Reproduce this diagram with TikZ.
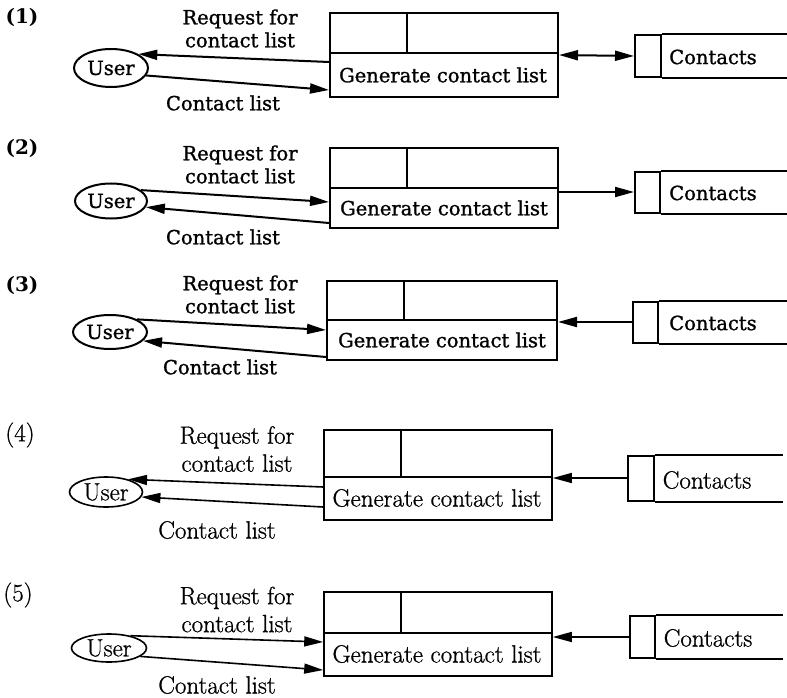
\documentclass[tikz,border=0pt]{standalone}
\usepackage{fontspec}
\newfontfamily\dvs{DejaVu Serif}[FakeBold=1.2]
\newfontfamily\dvsb{DejaVu Serif Bold}
\newfontfamily\lmr{Latin Modern Roman}[FakeBold=0.8]
\usetikzlibrary{arrows.meta,calc,shapes.geometric}
\tikzset{
  fa/.style={font=\dvs\fontsize{19.5}{23}\selectfont},
  fb/.style={font=\lmr\fontsize{25}{28}\selectfont},
  numa/.style={font=\dvsb\fontsize{20}{22}\selectfont},
  lwa/.style={line width=2pt},
  lwb/.style={line width=1.6pt},
  tipa/.tip={Triangle[length=19pt,width=10pt]},
  arr/.style={-tipa},
  darr/.style={tipa-tipa},
  user/.style={draw,ellipse,inner sep=0pt},
  proc/.style={draw,rectangle,inner sep=0pt},
  store/.style={draw,rectangle,inner sep=0pt},
  lab/.style={inner sep=0pt,align=center},
}
\begin{document}
\begin{tikzpicture}[x=1pt,y=-1pt]
\useasboundingbox[fill=white] (0,0) rectangle (787,698);

%% ---------------- Panel 1 ----------------
\begin{scope}[fa,lwa]
\node[lab,numa] (n1) at (22,17) {(1)};
\node[proc,minimum width=228pt,minimum height=84pt] (P1) at (444,55) {};
\draw ([yshift=2pt]P1.west) -- ([yshift=2pt]P1.east);
\draw ([xshift=78pt]P1.north west) -- ([xshift=78pt,yshift=2pt]P1.west);
\node[lab] (G1) at (443,75) {Generate contact list};
\node[store,minimum width=26pt,minimum height=42pt] (S1) at (648,56) {};
\draw (S1.north east) -- ++(126,0);
\draw (S1.south east) -- ++(126,0);
\node[lab] (C1) at (713,57) {Contacts};
\node[user,minimum width=74pt,minimum height=38pt] (U1) at (111,68) {User};
\draw[darr] (P1.east) -- (S1.west);
\draw[arr] ([yshift=-7pt]P1.west) -- (U1.27);
\draw[arr] (U1.-12) -- ([yshift=-35pt]P1.west);
\node[lab] (R1) at (240,28.5) {Request for\\contact list};
\node[lab] (L1) at (223,103) {Contact list};
\end{scope}

%% ---------------- Panel 2 ----------------
\begin{scope}[fa,lwa]
\node[lab,numa] (n2) at (22,148) {(2)};
\node[proc,minimum width=228pt,minimum height=80pt] (P2) at (444,188) {};
\draw (P2.west) -- (P2.east);
\draw ([xshift=78pt]P2.north west) -- ([xshift=78pt]P2.west);
\node[lab] (G2) at (444,208) {Generate contact list};
\node[store,minimum width=25pt,minimum height=41pt] (S2) at (647.5,192.5) {};
\draw (S2.north east) -- ++(127,0);
\draw (S2.south east) -- ++(127,0);
\node[lab] (C2) at (713,193) {Contacts};
\node[user,minimum width=72pt,minimum height=35pt] (U2) at (111,201) {User};
\draw[arr] ([yshift=-4pt]P2.east) -- ([yshift=0.5pt]S2.west);
\draw[arr] (U2.20) -- ([yshift=-14pt]P2.west);
\draw[arr] ([yshift=-35pt]P2.west) -- (U2.-10);
\node[lab] (R2) at (240,164.5) {Request for\\contact list};
\node[lab] (L2) at (223,237) {Contact list};
\end{scope}

%% ---------------- Panel 3 ----------------
\begin{scope}[fa,lwa]
\node[lab,numa] (n3) at (22,285) {(3)};
\node[proc,minimum width=230pt,minimum height=79pt] (P3) at (442,320.5) {};
\draw ([yshift=0.5pt]P3.west) -- ([yshift=0.5pt]P3.east);
\draw ([xshift=78pt]P3.north west) -- ([xshift=78pt,yshift=0.5pt]P3.west);
\node[lab] (G3) at (442,340) {Generate contact list};
\node[store,minimum width=25pt,minimum height=41pt] (S3) at (645.5,322.5) {};
\draw (S3.north east) -- ++(129,0);
\draw (S3.south east) -- ++(129,0);
\node[lab] (C3) at (713,323) {Contacts};
\node[user,minimum width=74pt,minimum height=34pt] (U3) at (110,332) {User};
\draw[arr] ([yshift=0.5pt]S3.west) -- ([yshift=-1.5pt]P3.east);
\draw[arr] (U3.25) -- ([yshift=-9.5pt]P3.west);
\draw[arr] ([yshift=-36.5pt]P3.west) -- (U3.-15);
\node[lab] (R3) at (240,294.5) {Request for\\contact list};
\node[lab] (L3) at (220,367) {Contact list};
\end{scope}

%% ---------------- Panel 4 ----------------
\begin{scope}[fb,lwb]
\node[lab] (n4) at (20,435) {(4)};
\node[proc,minimum width=228pt,minimum height=90pt] (P4) at (438,475) {};
\draw ([yshift=-2pt]P4.west) -- ([yshift=-2pt]P4.east);
\draw ([xshift=78pt]P4.north west) -- ([xshift=78pt,yshift=-2pt]P4.west);
\node[lab] (G4) at (437,498) {Generate contact list};
\node[store,minimum width=26pt,minimum height=45pt] (S4) at (641,478.5) {};
\draw (S4.north east) -- ++(128,0);
\draw (S4.south east) -- ++(128,0);
\node[lab] (C4) at (707,480) {Contacts};
\node[user,minimum width=73pt,minimum height=30pt] (U4) at (106,492) {User};
\draw[arr] ([yshift=0.5pt]S4.west) -- ([yshift=-3pt]P4.east);
\draw[arr] ([yshift=-12pt]P4.west) -- (U4.30);
\draw[arr] ([yshift=-32pt]P4.west) -- (U4.-8);
\node[lab] (R4) at (237,449) {Request for\\contact list};
\node[lab] (L4) at (217,530) {Contact list};
\end{scope}

%% ---------------- Panel 5 ----------------
\begin{scope}[fb,lwb]
\node[lab] (n5) at (18,595) {(5)};
\node[proc,minimum width=228pt,minimum height=84pt] (P5) at (438,634) {};
\draw ([yshift=1pt]P5.west) -- ([yshift=1pt]P5.east);
\draw ([xshift=78pt]P5.north west) -- ([xshift=78pt,yshift=1pt]P5.west);
\node[lab] (G5) at (437,654) {Generate contact list};
\node[store,minimum width=25pt,minimum height=42pt] (S5) at (642.5,637) {};
\draw (S5.north east) -- ++(127,0);
\draw (S5.south east) -- ++(127,0);
\node[lab] (C5) at (708,638) {Contacts};
\node[user,minimum width=75pt,minimum height=28pt] (U5) at (109,648) {User};
\draw[arr] (S5.west) -- ([yshift=-3pt]P5.east);
\draw[arr] (U5.30) -- ([yshift=-8pt]P5.west);
\draw[arr] (U5.-15) -- ([yshift=-36pt]P5.west);
\node[lab] (R5) at (237,609.5) {Request for\\contact list};
\node[lab] (L5) at (217,685) {Contact list};
\end{scope}
\end{tikzpicture}
\end{document}
